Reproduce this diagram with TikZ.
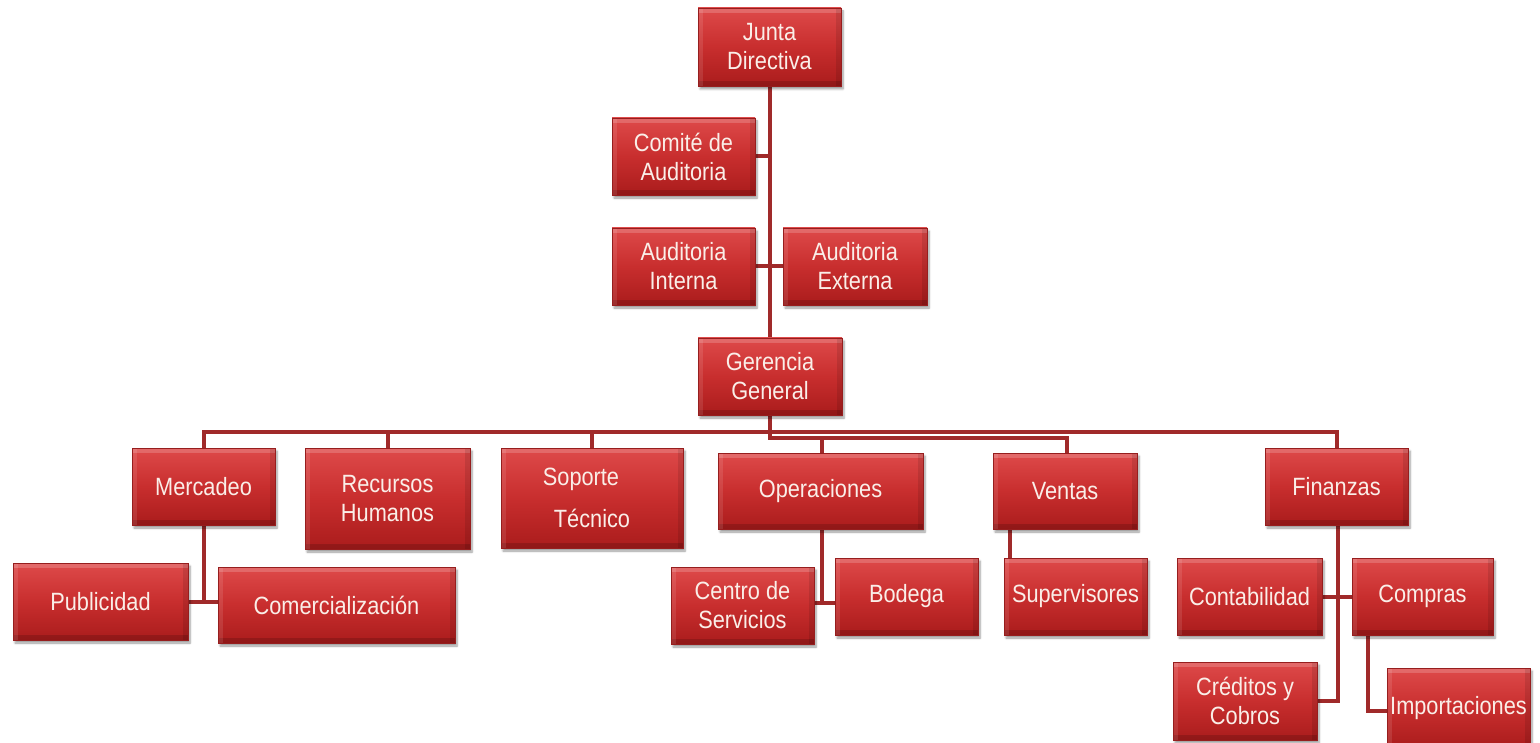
\documentclass[tikz,border=0pt]{standalone}
\usepackage{fontspec}
\setmainfont{Liberation Sans}[FakeStretch=0.87]
\usetikzlibrary{shadows.blur}
\pgfdeclarelayer{background}
\pgfsetlayers{background,main}
\definecolor{boxtop}{RGB}{222,74,74}
\definecolor{boxmid}{RGB}{200,46,46}
\definecolor{boxbot}{RGB}{170,28,28}
\definecolor{boxedge}{RGB}{150,30,30}
\definecolor{conncol}{RGB}{160,42,42}
\definecolor{txtcol}{RGB}{250,238,232}
\tikzset{
  orgbox/.style={rectangle, draw=boxedge, line width=0.8pt,
    top color=boxtop, bottom color=boxbot, middle color=boxmid,
    text=txtcol, align=center, inner sep=0pt,
    font=\fontsize{25}{29}\selectfont,
    blur shadow={shadow xshift=2pt, shadow yshift=-3pt, shadow opacity=40, shadow blur steps=6},
    path picture={
      \fill[white,opacity=0.18] (path picture bounding box.north west) rectangle ([yshift=-5pt]path picture bounding box.north east);
      \fill[black,opacity=0.15] (path picture bounding box.south west) rectangle ([yshift=5pt]path picture bounding box.south east);
      \fill[white,opacity=0.10] (path picture bounding box.north west) rectangle ([xshift=5pt]path picture bounding box.south west);
      \fill[black,opacity=0.10] (path picture bounding box.north east) rectangle ([xshift=-5pt]path picture bounding box.south east);
    }},
  conn/.style={draw=conncol, line width=4pt}
}
\begin{document}
\begin{tikzpicture}[x=1pt,y=-1pt]
\useasboundingbox (0,0) rectangle (1540,743);
% level 0-1
\node[orgbox, minimum width=143, minimum height=78] (jd) at (769.5,47) {Junta\\Directiva};
\node[orgbox, minimum width=143, minimum height=77] (ca) at (683.5,156.5) {Comité de\\Auditoria};
\node[orgbox, minimum width=143, minimum height=77] (ai) at (683.5,266.5) {Auditoria\\Interna};
\node[orgbox, minimum width=144, minimum height=77] (ae) at (855,266.5) {Auditoria\\Externa};
\node[orgbox, minimum width=144, minimum height=77] (gg) at (770,376.5) {Gerencia\\General};
% level 2
\node[orgbox, minimum width=143, minimum height=77] (mer) at (203.5,486.5) {Mercadeo};
\node[orgbox, minimum width=165, minimum height=101] (rh) at (387.5,498.5) {Recursos\\Humanos};
\node[orgbox, minimum width=182, minimum height=100] (sop) at (592,498) {\hspace*{-22pt}Soporte\\[13pt]Técnico};
\node[orgbox, minimum width=205, minimum height=76] (ope) at (820.5,491) {Operaciones};
\node[orgbox, minimum width=144, minimum height=76] (ven) at (1065,491) {Ventas};
\node[orgbox, minimum width=143, minimum height=77] (fin) at (1336.5,486.5) {Finanzas};
% level 3
\node[orgbox, minimum width=175, minimum height=77] (pub) at (100.5,601.5) {Publicidad};
\node[orgbox, minimum width=237, minimum height=76] (com) at (336.5,605) {Comercialización};
\node[orgbox, minimum width=143, minimum height=77] (cen) at (742.5,605.5) {Centro de\\Servicios};
\node[orgbox, minimum width=143, minimum height=77] (bod) at (906.5,596.5) {Bodega};
\node[orgbox, minimum width=143, minimum height=77] (sup) at (1075.5,596.5) {Supervisores};
\node[orgbox, minimum width=145, minimum height=77] (con) at (1249.5,596.5) {Contabilidad};
\node[orgbox, minimum width=141, minimum height=77] (cpr) at (1422.5,596.5) {Compras};
\node[orgbox, minimum width=144, minimum height=78] (cre) at (1245,701) {Créditos y\\Cobros};
\node[orgbox, minimum width=143, minimum height=80] (imp) at (1458.5,708) {Importaciones};
% bus coordinates
\coordinate (busA) at (0,432);
\coordinate (busB) at (0,438);
\coordinate (mY) at (0,602);
\coordinate (oY) at (0,603);
\begin{pgfonlayer}{background}
\draw[conn] (jd.south) -- (jd.south |- gg.north);
\draw[conn] (ca.east) -- (ca.east -| jd.south);
\draw[conn] (ai.east) -- (ae.west);
% upper bus
\draw[conn] (mer.north) -- (mer.north |- busA) -- (fin.north |- busA) -- (fin.north);
\draw[conn] (rh.north) -- (rh.north |- busA);
\draw[conn] (sop.north) -- (sop.north |- busA);
% lower bus
\draw[conn] (gg.south) -- (gg.south |- busB) -- ([xshift=2pt]ven.north |- busB) -- ([xshift=2pt]ven.north);
\draw[conn] ([xshift=1.5pt]ope.north) -- ([xshift=1.5pt]ope.north |- busB);
% Mercadeo
\draw[conn] (mer.south) -- (mer.south |- mY);
\draw[conn] (pub.east |- mY) -- (com.west |- mY);
% Operaciones
\draw[conn] ([xshift=1.5pt]ope.south) -- ([xshift=1.5pt]ope.south |- oY);
\draw[conn] (cen.east |- oY) -- (bod.west |- oY);
% Ventas
\draw[conn] ([xshift=17pt]ven.south west) -- ([xshift=17pt]ven.south west |- sup.north);
% Finanzas
\draw[conn] ([xshift=1.5pt]fin.south) |- (cre.east);
\draw[conn] (con.east) -- (cpr.west);
\draw[conn] ([xshift=16pt]cpr.south west) |- ([yshift=-3pt]imp.west);
\end{pgfonlayer}
\end{tikzpicture}
\end{document}
